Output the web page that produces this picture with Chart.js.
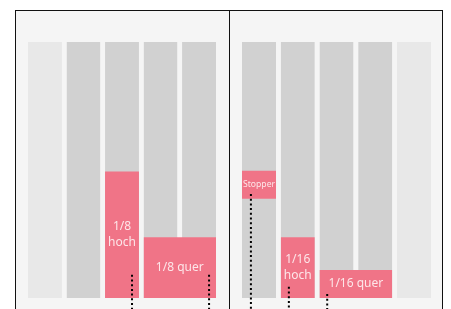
<!DOCTYPE html>
<html lang="de">
<head>
<meta charset="utf-8">
<title>Einteilung</title>
<script src="https://cdn.jsdelivr.net/npm/chart.js@4/dist/chart.umd.min.js"></script>
<style>
  html, body { margin: 0; padding: 0; background: #fff; }
  body { width: 451px; height: 309px; overflow: hidden; position: relative; }
  .frame {
    position: absolute; left: 15px; top: 10px;
    width: 426px; height: 298px;
    border: 1px solid #111; border-bottom: none;
    background: #f5f5f5; display: flex;
  }
  .panel { position: relative; height: 298px; }
  #panelL { width: 213px; border-right: 1px solid #111; }
  #panelR { width: 212px; }
</style>
</head>
<body>
<div class="frame">
  <div class="panel" id="panelL"><canvas id="chartL"></canvas></div>
  <div class="panel" id="panelR"><canvas id="chartR"></canvas></div>
</div>
<script>
"use strict";

// ── DATA ────────────────────────────────────
const SLOT_TOP = 16;                 // full slot height (units)

// slot state per column: 1 = occupied (grey), 0 = free (light)
const leftSlots   = [0, 1, 1, 1, 1];
const rightSlots  = [1, 1, 1, 1, 0];

// pieces: label, first column, span in columns, bottom, top
const leftLabels  = [["1/8", "hoch"], ["1/8 quer"]];
const leftCols    = [2, 3];
const leftSpans   = [1, 2];
const leftFrom    = [0, 0];
const leftTo      = [7.9, 3.8];

const rightLabels = [["Stopper"], ["1/16", "hoch"], ["1/16 quer"]];
const rightCols   = [0, 1, 2];
const rightSpans  = [1, 1, 2];
const rightFrom   = [6.2, 0, 0];
const rightTo     = [7.95, 3.8, 1.75];

// dotted markers: x in column units, start height
const leftMarkX   = [2.7, 4.7];
const leftMarkY   = [1.45, 1.45];
const rightMarkX  = [0.23, 1.21, 2.2];
const rightMarkY  = [6.5, 0.7, 0.25];

// ── STYLE ───────────────────────────────────
const BAR_W     = 0.88;              // slot width as part of column pitch
const Y_MIN     = -0.6875;
const C_SLOT    = "#d1d1d1";
const C_FREE    = "#e8e8e8";
const C_PIECE   = "#f07487";
const C_TEXT    = "#fde6e9";
const FONT      = "'Noto Sans', 'Open Sans', sans-serif";


/* ══════════════════════════════════════════
   DATASET BUILDERS
   (order: higher value is drawn first / below)
══════════════════════════════════════════ */
function rect(x0, x1, y0, y1, color, order) {
  return {
    data: [{ x: x0, y: y1 }, { x: x1, y: y1 }],
    fill: { value: y0 },
    backgroundColor: color,
    borderColor: "transparent",
    borderWidth: 0,
    pointRadius: 0,
    order: order,
  };
}

function marker(x, y) {
  return {
    data: [{ x: x, y: y }, { x: x, y: Y_MIN }],
    fill: false,
    borderColor: "#000",
    borderWidth: 2,
    borderDash: [2, 2.7],
    borderCapStyle: "butt",
    pointRadius: 0,
    order: 1,
  };
}

function buildPanel(slots, labels, cols, spans, from, to, markX, markY) {
  const sets = [];
  slots.forEach((s, i) => {
    sets.push(rect(i, i + BAR_W, 0, SLOT_TOP, s ? C_SLOT : C_FREE, 3));
  });
  const pieces = labels.map((lbl, i) => ({
    lines: lbl,
    x0: cols[i],
    x1: cols[i] + spans[i] - 1 + BAR_W,
    y0: from[i],
    y1: to[i],
  }));
  pieces.forEach(p => sets.push(rect(p.x0, p.x1, p.y0, p.y1, C_PIECE, 2)));
  markX.forEach((x, i) => sets.push(marker(x, markY[i])));
  return { sets, pieces };
}


/* ══════════════════════════════════════════
   LABEL PLUGIN (text centred in each piece)
══════════════════════════════════════════ */
function labelPlugin(pieces) {
  return {
    id: "pieceLabels",
    afterDatasetsDraw(chart) {
      const { ctx, scales: { x, y } } = chart;
      ctx.save();
      ctx.fillStyle = C_TEXT;
      ctx.textAlign = "center";
      ctx.textBaseline = "middle";
      pieces.forEach(p => {
        const left  = x.getPixelForValue(p.x0);
        const right = x.getPixelForValue(p.x1);
        const cx = (left + right) / 2;
        const cy = (y.getPixelForValue(p.y0) + y.getPixelForValue(p.y1)) / 2;
        // shrink font when a line does not fit the piece
        let size = 12;
        ctx.font = size + "px " + FONT;
        const widest = Math.max(...p.lines.map(t => ctx.measureText(t).width));
        if (widest > right - left - 2) size = size * (right - left - 2) / widest;
        ctx.font = size + "px " + FONT;
        const lh = size * 1.35;
        p.lines.forEach((t, i) => {
          ctx.fillText(t, cx, cy + (i - (p.lines.length - 1) / 2) * lh);
        });
      });
      ctx.restore();
    }
  };
}


/* ══════════════════════════════════════════
   CHARTS
══════════════════════════════════════════ */
function makeChart(canvasId, panel, pad) {
  return new Chart(document.getElementById(canvasId), {
    type: "line",
    data: { datasets: panel.sets },
    options: {
      responsive: true,
      maintainAspectRatio: false,
      animation: false,
      events: [],
      layout: { padding: pad },
      scales: {
        x: { type: "linear", min: 0, max: 4 + BAR_W, display: false },
        y: { type: "linear", min: Y_MIN, max: SLOT_TOP, display: false },
      },
      plugins: {
        legend: { display: false },
        tooltip: { enabled: false },
      }
    },
    plugins: [labelPlugin(panel.pieces)]
  });
}

const left  = buildPanel(leftSlots, leftLabels, leftCols, leftSpans,
                         leftFrom, leftTo, leftMarkX, leftMarkY);
const right = buildPanel(rightSlots, rightLabels, rightCols, rightSpans,
                         rightFrom, rightTo, rightMarkX, rightMarkY);

makeChart("chartL", left,  { left: 12, right: 13, top: 31, bottom: 0 });
makeChart("chartR", right, { left: 12, right: 11, top: 31, bottom: 0 });
</script>
</body>
</html>
